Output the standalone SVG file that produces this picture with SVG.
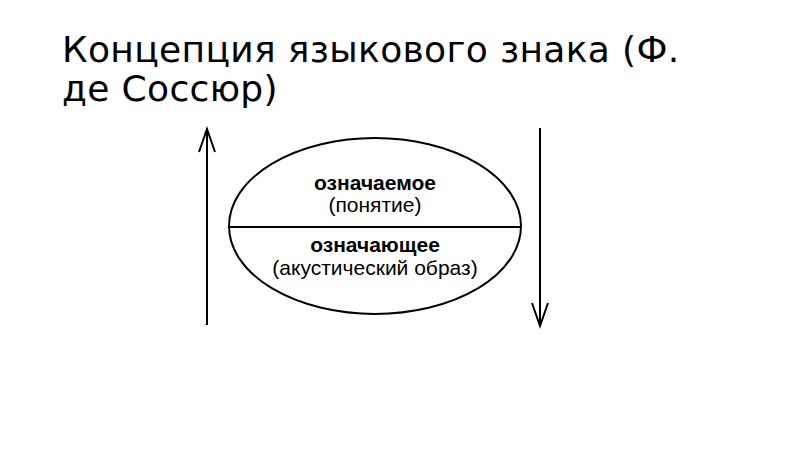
<svg xmlns="http://www.w3.org/2000/svg" width="800" height="449" viewBox="0 0 800 449">
<style>
.title{font-family:"DejaVu Sans",sans-serif;font-size:36px;letter-spacing:0.35px;fill:#000}
.b{font-family:"Liberation Sans",Arial,sans-serif;font-size:21px;font-weight:bold;text-anchor:middle;fill:#000}
.n{font-family:"Liberation Sans",Arial,sans-serif;font-size:21px;text-anchor:middle;fill:#000}
.ln{stroke:#000;stroke-width:2;fill:none}
</style>
<rect width="800" height="449" fill="#fff"/>
<g id="title">
<text class="title" x="62" y="62">Концепция языкового знака (Ф.</text>
<text class="title" x="62" y="101">де Соссюр)</text>
</g>
<g id="sign">
<ellipse class="ln" cx="375" cy="226" rx="146" ry="88"/>
<line class="ln" x1="229" y1="227" x2="521" y2="227"/>
<text class="b" x="375" y="190">означаемое</text>
<text class="n" x="375" y="212">(понятие)</text>
<text class="b" x="375" y="252">означающее</text>
<text class="n" x="375" y="275">(акустический образ)</text>
</g>
<g id="connectors">
<line class="ln" x1="207" y1="129" x2="207" y2="325"/>
<polyline class="ln" points="199,152 207,129 215,152"/>
<line class="ln" x1="540" y1="128" x2="540" y2="326"/>
<polyline class="ln" points="532,303 540,326 548,303"/>
</g>
</svg>
